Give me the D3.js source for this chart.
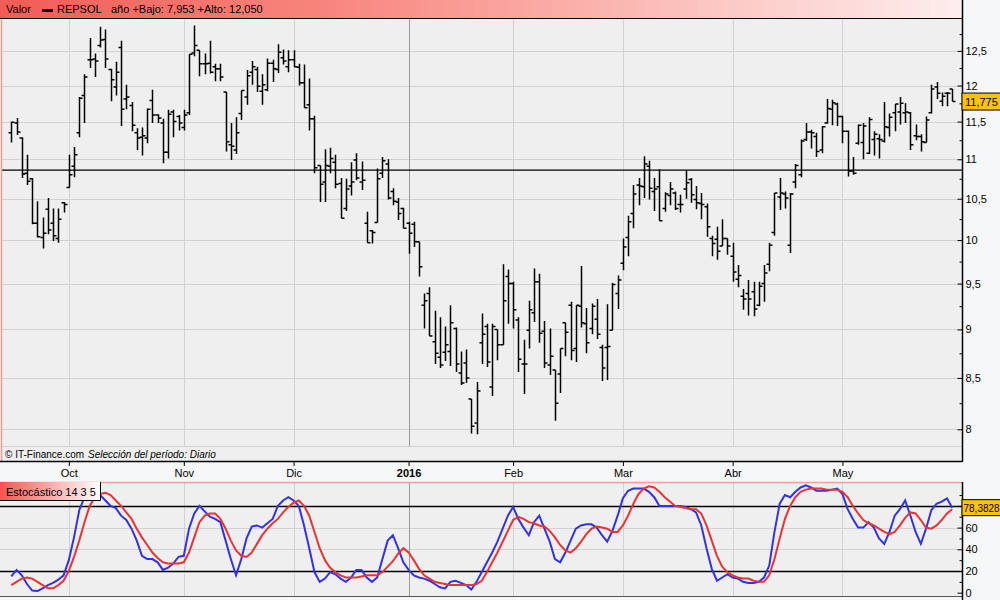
<!DOCTYPE html>
<html>
<head>
<meta charset="utf-8">
<script src="https://cdnjs.cloudflare.com/ajax/libs/d3/7.8.5/d3.min.js"></script>
<style>
  body { margin: 0; background: #f6f7f9; }
  svg { display: block; font-family: "Liberation Sans", Arial, sans-serif; }
</style>
</head>
<body>
<div class="chart_box"></div>
<script>
var startDate = "2015-09-16";
var holidays = ["2015-12-25", "2016-01-01", "2016-03-25", "2016-03-28"];
var monthNames = ["Ene","Feb","Mar","Abr","May","Jun","Jul","Ago","Sep","Oct","Nov","Dic"];

var opens = [11.35,11.48,11.28,10.82,10.75,10.20,10.03,10.37,10.20,10.02,
  10.45,10.64,10.91,11.35,11.86,12.37,12.38,12.58,12.67,12.23,
  11.98,12.55,11.81,11.72,11.35,11.29,11.28,11.79,11.59,11.48,
  11.09,11.63,11.57,11.42,11.62,12.47,12.51,12.31,12.32,12.27,
  12.24,11.91,11.19,11.12,11.61,11.84,12.19,12.23,11.92,11.94,
  12.32,12.23,12.40,12.27,12.37,12.26,12.04,11.73,11.54,10.92,
  10.71,10.91,10.96,10.69,10.38,10.66,10.99,10.71,10.20,10.11,
  10.21,10.82,10.94,10.59,10.46,10.38,10.20,10.19,9.98,9.26,
  9.39,8.87,8.71,8.76,8.77,9.01,8.55,8.65,8.29,8.06,
  8.86,9.03,8.41,9.00,8.84,9.58,9.50,9.10,8.64,8.99,
  9.18,9.52,8.98,8.63,8.58,8.54,9.07,9.26,8.80,9.25,
  9.06,9.01,9.11,8.81,8.81,8.99,9.39,9.73,10.03,10.32,
  10.67,10.65,10.91,10.59,10.65,10.38,10.54,10.57,10.43,10.62,
  10.74,10.49,10.44,10.40,10.02,10.01,9.93,10.02,9.81,9.55,
  9.36,9.39,9.41,9.26,9.50,9.72,10.09,10.52,10.56,9.94,
  10.71,10.80,11.26,11.36,11.30,11.12,11.48,11.67,11.74,11.57,
  11.37,10.85,11.21,11.22,11.08,11.26,11.27,11.24,11.42,11.62,
  11.63,11.62,11.62,11.31,11.30,11.22,11.62,11.98,11.78,11.89,
  11.95];

var highs = [11.50,11.55,11.29,11.06,10.76,10.47,10.27,10.51,10.38,10.38,
  10.46,11.06,11.16,11.84,12.16,12.69,12.46,12.86,12.82,12.24,
  12.34,12.65,12.01,11.77,11.41,11.42,11.68,11.94,11.60,11.54,
  11.66,11.66,11.59,11.66,12.45,12.88,12.51,12.46,12.65,12.31,
  12.31,11.91,11.48,11.56,11.93,12.22,12.35,12.27,12.16,12.39,
  12.37,12.60,12.52,12.51,12.51,12.31,12.30,12.10,11.58,10.92,
  11.13,11.15,11.06,10.76,10.75,10.96,11.08,10.97,10.34,10.12,
  10.88,11.03,11.00,10.63,10.51,10.39,10.22,10.22,9.98,9.39,
  9.46,9.20,9.13,9.03,9.26,9.02,8.77,8.79,8.29,8.46,
  9.17,9.06,9.06,9.00,9.72,9.66,9.52,9.13,8.89,9.31,
  9.67,9.61,9.09,9.01,8.58,8.80,9.07,9.30,9.26,9.70,
  9.23,9.28,9.33,8.84,9.27,9.51,9.59,10.02,10.29,10.67,
  10.76,11.04,10.98,10.76,10.87,10.58,10.71,10.59,10.55,10.86,
  10.76,10.66,10.57,10.44,10.05,10.16,10.25,10.02,9.97,9.71,
  9.44,9.54,9.52,9.52,9.71,9.97,10.57,10.76,10.59,10.57,
  10.94,11.26,11.48,11.39,11.35,11.44,11.81,11.80,11.76,11.58,
  11.38,11.03,11.46,11.48,11.56,11.37,11.33,11.77,11.61,11.74,
  11.84,11.75,11.63,11.46,11.33,11.57,12.01,12.05,11.90,11.91,
  11.95];

var lows = [11.22,11.32,10.76,10.67,10.19,10.03,9.90,10.07,9.99,9.97,
  10.33,10.64,10.77,11.29,11.48,12.25,12.12,12.55,12.25,11.78,
  11.86,11.44,11.67,11.37,11.12,11.05,11.21,11.48,11.48,10.95,
  11.01,11.29,11.38,11.38,11.59,12.42,12.13,12.16,12.17,12.06,
  12.06,11.10,10.99,11.07,11.52,11.73,12.01,11.91,11.73,11.92,
  12.05,12.18,12.30,12.19,12.26,12.00,11.69,11.38,10.82,10.46,
  10.46,10.82,10.63,10.26,10.35,10.54,10.73,10.61,9.97,9.96,
  10.21,10.76,10.49,10.42,10.24,10.14,9.84,9.92,9.58,9.01,
  8.93,8.64,8.60,8.67,8.62,8.56,8.43,8.45,7.96,7.953,
  8.64,8.61,8.32,8.68,8.84,9.06,9.01,8.56,8.34,8.80,
  9.08,8.86,8.60,8.53,8.08,8.35,8.72,8.68,8.66,9.02,
  8.75,8.95,8.90,8.47,8.48,8.99,9.22,9.65,9.81,10.14,
  10.42,10.51,10.49,10.35,10.23,10.34,10.42,10.36,10.33,10.50,
  10.45,10.37,10.25,10.04,9.81,9.77,9.93,9.83,9.52,9.46,
  9.21,9.15,9.14,9.25,9.30,9.64,10.05,10.36,10.38,9.85,
  10.63,10.77,11.24,11.14,11.03,11.08,11.47,11.45,11.44,11.21,
  10.78,10.80,11.19,11.00,11.07,11.05,11.01,11.22,11.30,11.37,
  11.46,11.48,11.12,11.25,11.10,11.22,11.61,11.81,11.71,11.71,
  11.78];

var closes = [11.49,11.36,10.81,10.72,10.20,10.04,10.08,10.12,10.05,10.25,
  10.43,10.80,11.06,11.82,12.12,12.37,12.35,12.66,12.38,12.08,
  12.19,11.67,11.84,11.45,11.28,11.31,11.67,11.59,11.55,11.09,
  11.60,11.50,11.48,11.59,12.45,12.58,12.31,12.31,12.19,12.24,
  12.12,11.23,11.17,11.35,11.93,12.14,12.27,11.99,12.01,12.32,
  12.24,12.48,12.35,12.37,12.27,12.04,11.69,11.54,10.89,10.68,
  10.92,11.01,10.68,10.26,10.62,10.71,10.76,10.73,9.97,10.09,
  10.75,10.98,10.51,10.47,10.32,10.14,10.08,9.98,9.69,9.31,
  8.93,8.75,8.63,8.84,9.07,8.64,8.45,8.50,8.03,8.37,
  8.95,8.66,9.03,8.84,9.31,9.50,9.21,8.69,8.64,9.21,
  9.52,8.96,8.65,8.72,8.25,8.80,8.97,8.78,9.26,9.07,
  8.86,9.25,8.95,8.60,8.82,9.49,9.54,9.92,10.22,10.56,
  10.66,10.94,10.63,10.62,10.23,10.56,10.62,10.38,10.43,10.70,
  10.55,10.45,10.43,10.16,9.96,9.87,10.02,9.93,9.63,9.59,
  9.33,9.33,9.22,9.47,9.62,9.94,10.57,10.57,10.51,10.56,
  10.92,11.24,11.36,11.35,11.10,11.43,11.68,11.76,11.57,11.37,
  10.85,10.82,11.45,11.44,11.53,11.33,11.26,11.43,11.56,11.74,
  11.75,11.63,11.19,11.30,11.23,11.52,11.95,11.89,11.85,11.89,
  11.775];

// estocastico 14 3 5 : %K (azul) y %D (rojo)
var stochK = [15,21,16,8,2,1.5,4,7,9,12,
  16,30,51,76,88,91,89,90,85,80,
  78,71,67,59,48,34,31,31,28,21,
  23,27,33,34,59,73,80,75,70,68,
  65,48,31,16,31,50,61,62,60,64,
  68,80,85,88,85,80,62,41,19,10,
  13,19,17,13,10,14,21,21,14,10,
  14,31,48,53,41,28,21,16,14,13,
  11,8,5,4,10,11,9,7,3,10,
  19,28,37,47,59,71,79,68,60,53,
  65,71,59,47,31,28,37,48,59,62,
  63,63,60,53,47,57,71,87,94,96,
  96,96,93,88,80,80,80,80,80,79,
  77,74,62,41,22,11,14,17,14,13,
  10,9,9,10,14,25,56,82,90,88,
  93,97,99,97,94,94,94,95,96,91,
  77,68,60,60,65,60,50,45,56,71,
  77,85,71,56,45,59,76,82,84,87,
  78.3828];

var stochD = [7,10,13,14,13,10,7,4,4,7,
  11,20,33,48,65,80,88,91,92,90,
  85,80,74,68,59,51,44,37,32,28,
  27,27,27,28,37,51,65,71,73,73,
  68,59,48,39,34,33,37,45,53,59,
  64,68,74,79,83,85,80,71,56,41,
  30,23,19,16,14,14,14,15,16,16,
  16,19,24,29,36,41,37,30,22,16,
  13,10,9,8,7,7,7,7,7,8,
  11,19,28,37,47,57,67,70,68,65,
  64,62,61,57,51,44,39,37,41,47,
  54,59,61,60,59,56,56,62,71,82,
  91,96,98,97,93,88,84,80,79,78,
  77,77,73,62,48,34,24,19,16,14,
  13,13,11,10,10,16,31,50,68,80,
  88,93,95,96,96,96,95,95,95,93,
  88,80,73,67,64,62,59,56,54,56,
  62,69,74,73,67,60,59,62,67,73,
  77];

var refLevel = 10.86;
var priceMajor = [8, 8.5, 9, 9.5, 10, 10.5, 11, 11.5, 12, 12.5];
var priceMinor = [8.25, 8.75, 9.25, 9.75, 10.25, 10.75, 11.25, 11.75, 12.25, 12.75];
var stochMajor = [0, 20, 40, 60, 80];
var stochLabels = [0, 20, 40, 60];
var stochMinor = [10, 30, 50, 70, 90];
var stochGrid = [40, 60];
var stochBands = [20, 80];

// trading days
var parseDay = d3.timeParse("%Y-%m-%d");
var dayKey = d3.timeFormat("%Y-%m-%d");
var dates = [];
var day = parseDay(startDate);
while (dates.length < closes.length) {
  var wd = day.getDay();
  if (wd != 0 && wd != 6 && holidays.indexOf(dayKey(day)) < 0) dates.push(day);
  day = d3.timeDay.offset(day, 1);
}
var monthIdx = [];
for (var i = 1; i < dates.length; i++) {
  if (dates[i].getMonth() != dates[i - 1].getMonth()) monthIdx.push(i);
}
function monthLabel(i) {
  var d = dates[i];
  return d.getMonth() == 0 ? String(d.getFullYear()) : monthNames[d.getMonth()];
}
function comma(v) { return String(v).replace(".", ","); }

var n = closes.length;
var idx = d3.range(n);
var width = 1000, height = 600;
var panelR = 962;
var mainTop = 18, mainBottom = 461, footerTop = 446;
var stochTop = 482, stochBottom = 596;
var fontFam = "Liberation Sans, Arial, sans-serif";

var x = d3.scaleLinear().domain([0, n - 1]).range([11.3, 952.2]);
var y = d3.scaleLog().domain([8, 12]).range([429.3, 85.5]);
var yS = d3.scaleLinear().domain([0, 100]).range([592.7, 484.2]);

var svg = d3.select(".chart_box")
  .append("svg")
  .attr("width", width)
  .attr("height", height);

var defs = svg.append("defs");
var hg = defs.append("linearGradient").attr("id", "headGrad");
hg.append("stop").attr("offset", "0%").attr("stop-color", "#f05d55");
hg.append("stop").attr("offset", "35%").attr("stop-color", "#f8877f");
hg.append("stop").attr("offset", "75%").attr("stop-color", "#fcc8c4");
hg.append("stop").attr("offset", "100%").attr("stop-color", "#fdeeee");
var sg = defs.append("linearGradient").attr("id", "stochGrad");
sg.append("stop").attr("offset", "0%").attr("stop-color", "#f4554f");
sg.append("stop").attr("offset", "100%").attr("stop-color", "#ffffff");

svg.append("rect")
  .attr("width", width).attr("height", height)
  .attr("fill", "#f6f7f9");

// ---- header
svg.append("rect")
  .attr("x", 0).attr("y", 0)
  .attr("width", panelR).attr("height", mainTop)
  .attr("fill", "url(#headGrad)");

svg.append("text").attr("x", 6).attr("y", 13).attr("font-size", "11px").text("Valor");
svg.append("rect").attr("x", 42).attr("y", 9).attr("width", 11).attr("height", 3).attr("fill", "#000");
svg.append("text").attr("x", 57).attr("y", 13).attr("font-size", "11px").text("REPSOL");

var yearIdx = idx.filter(function(i) { return dates[i].getFullYear() == dates[n - 1].getFullYear(); });
var yearLow = d3.min(yearIdx, function(i) { return lows[i]; });
var yearHigh = d3.max(yearIdx, function(i) { return highs[i]; });
svg.append("text").attr("x", 111).attr("y", 13).attr("font-size", "11px")
  .text("año +Bajo: " + comma(d3.format(".3f")(yearLow)) + " +Alto: " + comma(d3.format(".3f")(yearHigh)));

// ---- main panel
svg.append("rect")
  .attr("x", 1).attr("y", mainTop)
  .attr("width", panelR - 1).attr("height", mainBottom - mainTop)
  .attr("fill", "#efefef");

svg.selectAll("line.hgrid")
  .data(priceMajor)
  .enter().append("line")
  .attr("class", "hgrid")
  .attr("x1", 2).attr("x2", panelR)
  .attr("y1", function(d) { return Math.round(y(d)) + 0.5; })
  .attr("y2", function(d) { return Math.round(y(d)) + 0.5; })
  .style("stroke", "#d2d2d2");

svg.append("line")
  .attr("x1", 2).attr("x2", panelR)
  .attr("y1", footerTop + 0.5).attr("y2", footerTop + 0.5)
  .style("stroke", "#d2d2d2");

svg.selectAll("line.vgrid")
  .data(monthIdx)
  .enter().append("line")
  .attr("class", "vgrid")
  .attr("x1", function(d) { return Math.round(x(d)) + 0.5; })
  .attr("x2", function(d) { return Math.round(x(d)) + 0.5; })
  .attr("y1", mainTop).attr("y2", footerTop)
  .style("stroke", function(d) { return dates[d].getMonth() == 0 ? "#9a9a9a" : "#d2d2d2"; });

svg.append("line")
  .attr("x1", 2).attr("x2", panelR)
  .attr("y1", y(refLevel)).attr("y2", y(refLevel))
  .style("stroke", "#000")
  .style("stroke-width", 1.2);

svg.append("g")
  .selectAll("path")
  .data(idx)
  .enter().append("path")
  .attr("d", function(i) {
    var cx = Math.round(x(i)) + 0.5;
    return "M" + cx + "," + y(highs[i]) + "V" + y(lows[i]) +
      "M" + (cx - 3) + "," + y(opens[i]) + "H" + cx +
      "M" + cx + "," + y(closes[i]) + "H" + (cx + 3);
  })
  .attr("fill", "none")
  .style("stroke", "#000")
  .style("stroke-width", 1.5);

svg.append("line")
  .attr("x1", 1.5).attr("x2", 1.5).attr("y1", mainTop).attr("y2", mainBottom)
  .style("stroke", "#f29a96").style("stroke-width", 1.5);
svg.append("line")
  .attr("x1", 0).attr("x2", panelR).attr("y1", mainTop + 0.5).attr("y2", mainTop + 0.5)
  .style("stroke", "#000");
svg.append("line")
  .attr("x1", 0).attr("x2", panelR).attr("y1", mainBottom + 0.5).attr("y2", mainBottom + 0.5)
  .style("stroke", "#000").style("stroke-width", 1.5);

svg.append("text").attr("x", 5).attr("y", 458).attr("font-size", "10px").text("© IT-Finance.com");
svg.append("text").attr("x", 88).attr("y", 458).attr("font-size", "10px")
  .attr("font-style", "italic").text("Selección del período: Diario");

// price axis: labelled ticks and minor ticks in two groups
var axP = svg.append("g")
  .attr("transform", "translate(" + (panelR + 0.5) + ",0)")
  .call(d3.axisRight(y).tickValues(priceMajor).tickSize(-5).tickPadding(3).tickFormat(comma));
axP.select(".domain").remove();
axP.selectAll("text").attr("font-size", "11px").attr("font-family", fontFam).attr("fill", "#000");

var axPm = svg.append("g")
  .attr("transform", "translate(" + (panelR + 0.5) + ",0)")
  .call(d3.axisRight(y).tickValues(priceMinor).tickSize(-3).tickFormat(""));
axPm.select(".domain").remove();

// date axis
var axD = svg.append("g")
  .attr("transform", "translate(0," + (mainBottom + 1) + ")")
  .call(d3.axisBottom(x).tickValues(monthIdx).tickSize(4).tickPadding(3).tickFormat(monthLabel));
axD.select(".domain").remove();
axD.selectAll("text")
  .attr("font-size", "11px")
  .attr("font-family", fontFam)
  .attr("font-weight", function(d) { return dates[d].getMonth() == 0 ? "bold" : "normal"; });

// ---- stochastic panel
svg.append("rect")
  .attr("x", 0).attr("y", stochTop)
  .attr("width", panelR).attr("height", stochBottom - stochTop)
  .attr("fill", "#efefef");

svg.selectAll("line.sgrid")
  .data(stochGrid)
  .enter().append("line")
  .attr("class", "sgrid")
  .attr("x1", 0).attr("x2", panelR)
  .attr("y1", function(d) { return Math.round(yS(d)) + 0.5; })
  .attr("y2", function(d) { return Math.round(yS(d)) + 0.5; })
  .style("stroke", "#d2d2d2");

svg.selectAll("line.svgrid")
  .data(monthIdx)
  .enter().append("line")
  .attr("class", "svgrid")
  .attr("x1", function(d) { return Math.round(x(d)) + 0.5; })
  .attr("x2", function(d) { return Math.round(x(d)) + 0.5; })
  .attr("y1", stochTop).attr("y2", stochBottom)
  .style("stroke", function(d) { return dates[d].getMonth() == 0 ? "#9a9a9a" : "#d2d2d2"; });

svg.selectAll("line.band")
  .data(stochBands)
  .enter().append("line")
  .attr("class", "band")
  .attr("x1", 0).attr("x2", panelR)
  .attr("y1", function(d) { return Math.round(yS(d)) + 0.5; })
  .attr("y2", function(d) { return Math.round(yS(d)) + 0.5; })
  .style("stroke", "#000").style("stroke-width", 1.3);

var sline = d3.line()
  .x(function(d, i) { return x(i); })
  .y(function(d) { return yS(d); });

svg.append("path").datum(stochK)
  .attr("d", sline).attr("fill", "none")
  .style("stroke", "#3232e6").style("stroke-width", 2);
svg.append("path").datum(stochD)
  .attr("d", sline).attr("fill", "none")
  .style("stroke", "#e83434").style("stroke-width", 2);

svg.append("line")
  .attr("x1", 0).attr("x2", panelR).attr("y1", stochTop + 0.5).attr("y2", stochTop + 0.5)
  .style("stroke", "#f5a19d").style("stroke-width", 1.5);
svg.append("line")
  .attr("x1", 0).attr("x2", panelR).attr("y1", stochBottom + 0.5).attr("y2", stochBottom + 0.5)
  .style("stroke", "#555");

// the 80 label sits under the last-value box, so only its tick is drawn
var axS = svg.append("g")
  .attr("transform", "translate(" + (panelR + 0.5) + ",0)")
  .call(d3.axisRight(yS).tickValues(stochLabels).tickSize(-5).tickPadding(3));
axS.select(".domain").remove();
axS.selectAll("text").attr("font-size", "11px").attr("font-family", fontFam).attr("fill", "#000");

var axSm = svg.append("g")
  .attr("transform", "translate(" + (panelR + 0.5) + ",0)")
  .call(d3.axisRight(yS).tickValues(stochMinor.concat([80])).tickSize(-3).tickFormat(""));
axSm.select(".domain").remove();
axSm.selectAll(".tick line").attr("x2", function(d) { return stochMajor.indexOf(d) >= 0 ? -5 : -3; });

svg.append("rect")
  .attr("x", 0).attr("y", stochTop)
  .attr("width", 100).attr("height", 18)
  .attr("fill", "url(#stochGrad)");
svg.append("path")
  .attr("d", "M100.5," + stochTop + "V" + (stochTop + 18.5) + "H0")
  .attr("fill", "none").style("stroke", "#000");
svg.append("text").attr("x", 6).attr("y", stochTop + 14).attr("font-size", "11px").text("Estocástico 14 3 5");

// axis lines
svg.append("line")
  .attr("x1", panelR + 0.5).attr("x2", panelR + 0.5).attr("y1", 0).attr("y2", mainBottom + 1)
  .style("stroke", "#000").style("stroke-width", 1.5);
svg.append("line")
  .attr("x1", panelR + 0.5).attr("x2", panelR + 0.5).attr("y1", stochTop).attr("y2", height)
  .style("stroke", "#000").style("stroke-width", 1.5);

// last value labels
var lastP = closes[n - 1];
svg.append("rect")
  .attr("x", panelR).attr("y", y(lastP) - 8.5)
  .attr("width", 40).attr("height", 17)
  .attr("fill", "#ffc20e").style("stroke", "#000");
svg.append("text").attr("x", panelR + 3).attr("y", y(lastP) + 4)
  .attr("font-size", "11px").text(comma(d3.format(".3f")(lastP)));

var lastK = stochK[n - 1];
svg.append("rect")
  .attr("x", panelR).attr("y", yS(lastK) - 8)
  .attr("width", 40).attr("height", 16)
  .attr("fill", "#ffc20e").style("stroke", "#000");
svg.append("text").attr("x", panelR + 1.5).attr("y", yS(lastK) + 4)
  .attr("font-size", "10px").text(comma(d3.format(".4f")(lastK)));
</script>
</body>
</html>
